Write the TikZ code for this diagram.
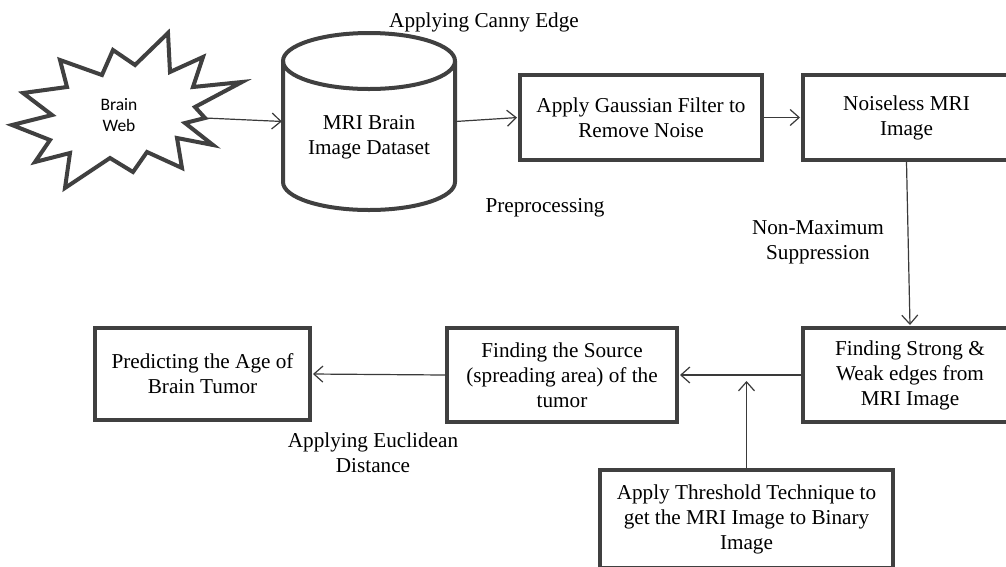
\documentclass[tikz,border=0pt]{standalone}
\usepackage{fontspec}
\setmainfont{Liberation Serif}
\newfontfamily\timesfont{Liberation Serif}
\newfontfamily\calibfont{Carlito}
\usetikzlibrary{arrows.meta}
\definecolor{boxgray}{HTML}{404040}
\definecolor{arrowgray}{HTML}{3A3A3A}
\tikzset{
  boxline/.style={draw=boxgray, line width=4pt, line join=miter},
  flowbox/.style={boxline, align=center, inner sep=0pt, font=\timesfont\fontsize{21.2}{25}\selectfont},
  txt/.style={align=center, inner sep=0pt, font=\timesfont\fontsize{21.2}{25}\selectfont},
  arr/.style={draw=arrowgray, line width=1.2pt, shorten >=1pt, -{Straight Barb[length=9pt,width=16pt,line width=1.2pt]}},
}
\begin{document}
\begin{tikzpicture}[x=1pt,y=-1pt]
\clip (0,0) rectangle (1006,566);
\fill[white] (0,0) rectangle (1006,566);

% starburst "Brain Web"
\draw[boxline, fill=white] (12,125) -- (52,115) -- (23,93) -- (67,87) -- (60,60) -- (102,75) -- (113,50) -- (135,65) -- (168,33) -- (170,72) -- (203,57) -- (193,87) -- (242,82) -- (195,107) -- (205,118) -- (185,123) -- (213,145) -- (177,138) -- (182,168) -- (147,152) -- (133,172) -- (110,158) -- (65,188) -- (70,153) -- (35,162) -- (50,140) -- cycle;
\node[align=center, inner sep=0pt, font=\calibfont\fontsize{17.5}{21}\selectfont] (web) at (119,115) {Brain\\Web};
\coordinate (webout) at (205,118);

% cylinder "MRI Brain Image Dataset"
\draw[boxline, fill=white] (283,61) -- (283,182) arc[start angle=180,end angle=360,x radius=86pt,y radius=28pt] -- (455,61);
\draw[boxline] (369,61) ellipse[x radius=86pt,y radius=28pt];
\node[minimum width=172pt, minimum height=177pt, inner sep=0pt] (db) at (369,121.5) {};
\node[txt] (dbtext) at (369,137) {MRI Brain\\Image Dataset};

% boxes
\node[flowbox, minimum width=242pt, minimum height=85pt] (gauss) at (641,117.5) {Apply Gaussian Filter to\\Remove Noise};
\node[flowbox, minimum width=207pt, minimum height=85pt] (noise) at (906.5,117.5) {Noiseless MRI\\Image};
\node[flowbox, minimum width=214pt, minimum height=94pt] (strong) at (910,375) {Finding Strong \&\\Weak edges from\\MRI Image};
\node[flowbox, minimum width=230pt, minimum height=94pt] (source) at (562,375) {Finding the Source\\(spreading area) of the\\tumor};
\node[flowbox, minimum width=215pt, minimum height=92pt] (predict) at (202.5,374) {Predicting the Age of\\Brain Tumor};
\node[flowbox, minimum width=293pt, minimum height=98pt] (thresh) at (746.5,519) {Apply Threshold Technique to\\get the MRI Image to Binary\\Image};
\coordinate (threshend) at (746.5,380);

% labels
\node[txt] (canny) at (484,22) {Applying Canny Edge};
\node[txt] (prep) at (545,208) {Preprocessing};
\node[txt] (nms) at (818,242) {Non-Maximum\\Suppression};
\node[txt] (eucl) at (373,453) {Applying Euclidean\\Distance};

% connectors
\draw[arr] (webout) -- (db.west);
\draw[arr] (db.east) -- (gauss.west);
\draw[arr] (gauss.east) -- (noise.west);
\draw[arr] (noise.south) -- (strong.north);
\draw[arr] (strong.west) -- (source.east);
\draw[arr] (source.west) -- (predict.east);
\draw[arr] (thresh.north) -- (threshend);
\end{tikzpicture}
\end{document}
